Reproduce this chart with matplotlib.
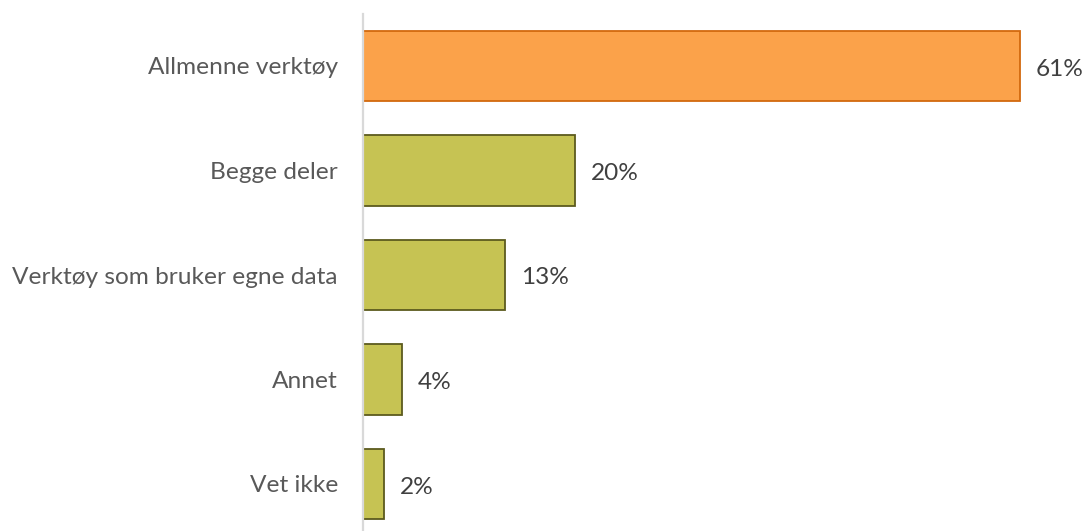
import matplotlib
matplotlib.use("Agg")
import matplotlib.pyplot as plt

categories = ["Allmenne verktøy", "Begge deler", "Verktøy som bruker egne data", "Annet", "Vet ikke"]
values = [61.0, 19.7, 13.2, 3.6, 1.95]
highlight = [True, False, False, False, False]

plt.rcParams['font.family'] = ['Lato', 'DejaVu Sans']

W, H = 1083, 531
fig = plt.figure(figsize=(W / 100, H / 100), dpi=100)
px_per_unit = 10.77
ax_left = 363
ax_w = W - ax_left
top = 13.75
ax_h = 5 * 104.5
ax = fig.add_axes([ax_left / W, (H - top - ax_h) / H, ax_w / W, ax_h / H])

ypos = list(range(len(categories)))
fills = ["#FBA24A" if h else "#C6C353" for h in highlight]
edges = ["#D2690E" if h else "#5C5A1E" for h in highlight]
ax.barh(ypos, values, height=0.67, color=fills, edgecolor=edges, linewidth=1.3, zorder=2)

ax.set_xlim(0, ax_w / px_per_unit)
ax.set_ylim(len(categories) - 0.5, -0.5)

for y, v in zip(ypos, values):
    ax.annotate(f"{v:.0f}%", xy=(v, y), xytext=(16, -3), textcoords="offset pixels",
                va="center", ha="left", fontsize=17.6, color="#404040")

ax.set_yticks(ypos)
ax.set_yticklabels(categories, fontsize=17.6, color="#595959")
for lbl in ax.get_yticklabels():
    lbl.set_y(lbl.get_position()[1])
ax.tick_params(axis="y", length=0, pad=18)
ax.set_xticks([])
for s in ["top", "right", "bottom"]:
    ax.spines[s].set_visible(False)
ax.spines["left"].set_color("#D9D9D9")
ax.spines["left"].set_linewidth(1.6)
ax.spines["left"].set_zorder(3)

fig.savefig("out.png", dpi=100, facecolor="white")
